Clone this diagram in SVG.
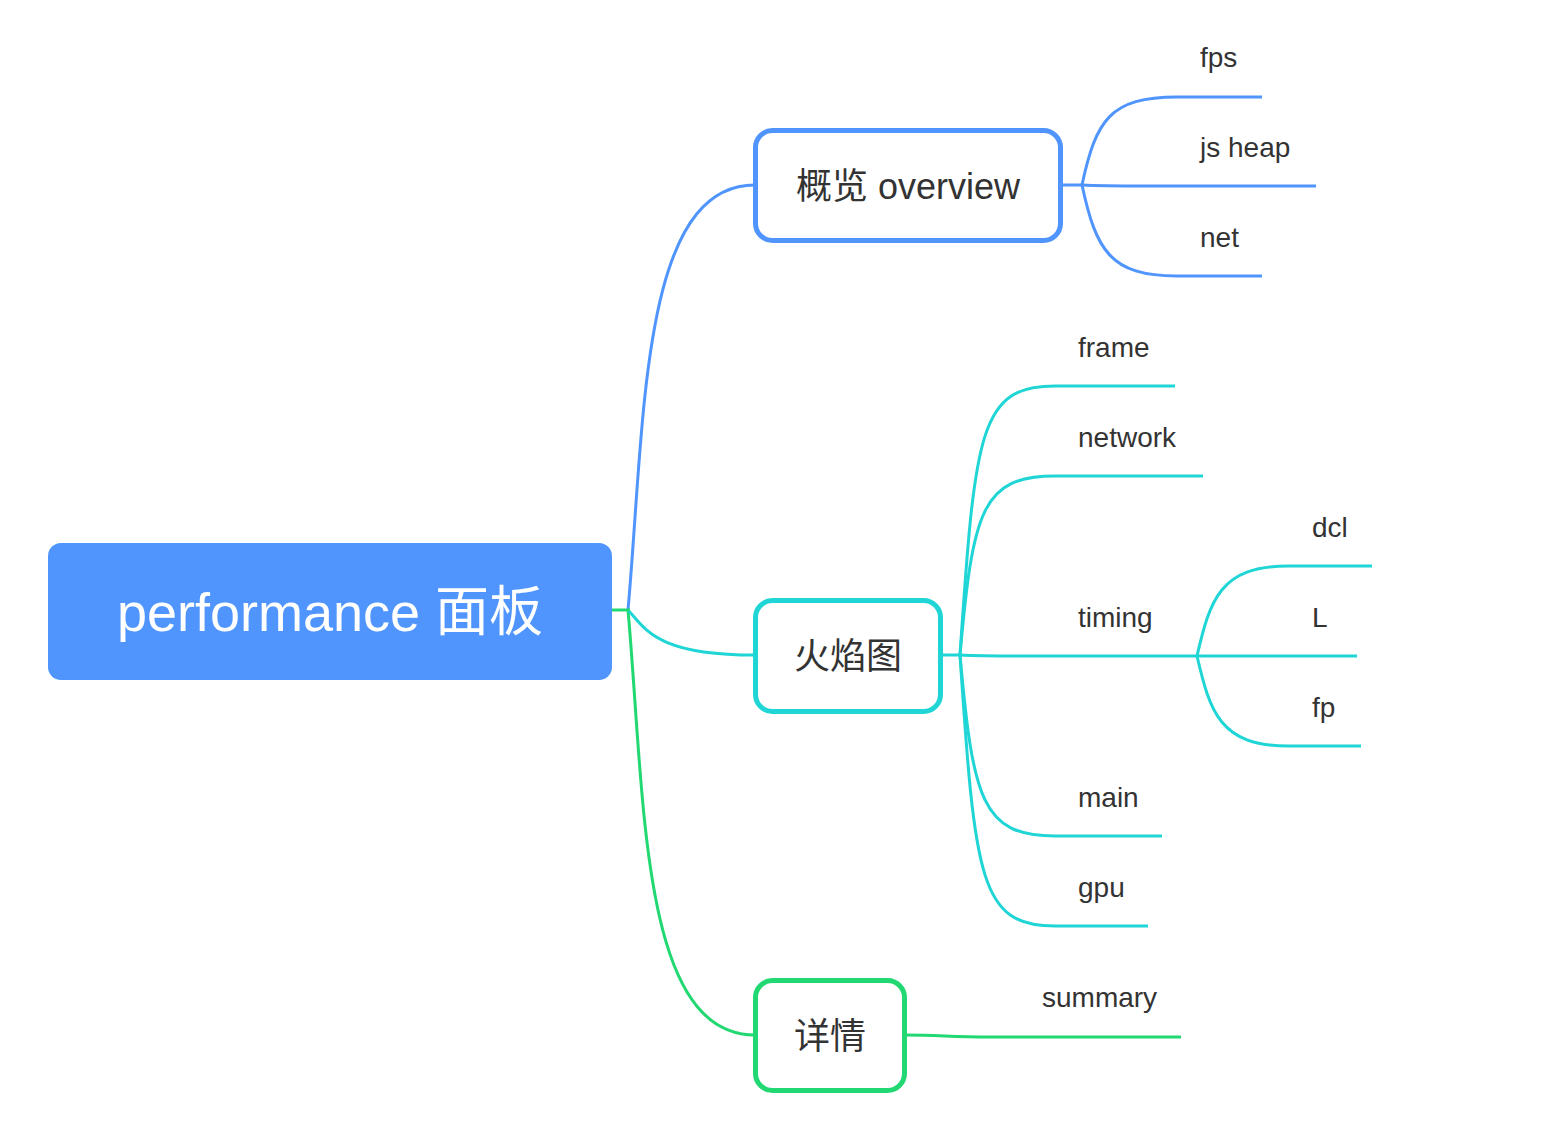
<svg xmlns="http://www.w3.org/2000/svg" width="1556" height="1126" viewBox="0 0 1556 1126">
<style>
.t{font-family:"Liberation Sans","Noto Sans CJK SC",sans-serif;fill:#333333;font-size:28px}
.bt{font-family:"Liberation Sans","Noto Sans CJK SC",sans-serif;fill:#333333;font-size:36px;text-anchor:middle}
.c{fill:none;stroke-width:3;stroke-linecap:butt}
.b{stroke:#4f95fd}.cy{stroke:#1fd5d5}.g{stroke:#22d872}
.box{fill:#ffffff;stroke-width:5}
</style>
<rect width="1556" height="1126" fill="#ffffff"/>
<g id="connectors">
<path class="c b" d="M628,610 C645,420 640,185 755,185"/>
<path class="c g" d="M628,610 C645,800 640,1035 755,1035"/>
<path class="c cy" d="M628,610 C645,628 655,655 755,655"/>
<path class="c g" d="M612,610 L630,610"/>
<path class="c b" d="M1061,185 L1082,185"/>
<path class="c b" d="M1082,185 C1096,120 1110,97 1177,97 L1262,97"/>
<path class="c b" d="M1082,185 C1100,186 1120,186 1145,186 L1316,186"/>
<path class="c b" d="M1082,185 C1096,250 1110,276 1177,276 L1262,276"/>
<path class="c cy" d="M941,655 L960,655"/>
<path class="c cy" d="M960,655 C975,430 980,386 1055,386 L1175,386"/>
<path class="c cy" d="M960,655 C973,510 982,476 1055,476 L1203,476"/>
<path class="c cy" d="M960,655 C980,656 1000,656 1025,656 L1197,656"/>
<path class="c cy" d="M960,655 C973,800 982,836 1055,836 L1162,836"/>
<path class="c cy" d="M960,655 C975,880 980,926 1055,926 L1148,926"/>
<path class="c cy" d="M1197,656 C1210,600 1220,566 1288,566 L1372,566"/>
<path class="c cy" d="M1197,656 L1357,656"/>
<path class="c cy" d="M1197,656 C1210,712 1220,746 1288,746 L1361,746"/>
<path class="c g" d="M905,1035 C940,1035 950,1037 990,1037 L1181,1037"/>
</g>
<g id="root">
<rect x="48" y="543" width="564" height="137" rx="13" fill="#4f95fd"/>
<text x="330" y="631" style="font-family:'Liberation Sans','Noto Sans CJK SC',sans-serif;font-size:54px;fill:#ffffff;text-anchor:middle">performance 面板</text>
</g>
<g id="overview">
<rect class="box" x="755.5" y="130.5" width="305" height="110" rx="17" stroke="#4f95fd"/>
<text class="bt" x="908" y="199">概览 overview</text>
</g>
<g id="flame">
<rect class="box" x="755.5" y="600.5" width="185" height="111" rx="17" stroke="#1fd5d5"/>
<text class="bt" x="848" y="669">火焰图</text>
</g>
<g id="detail">
<rect class="box" x="755.5" y="980.5" width="149" height="110" rx="17" stroke="#22d872"/>
<text class="bt" x="830" y="1049">详情</text>
</g>
<g id="fps"><text class="t" x="1200" y="67">fps</text></g>
<g id="jsheap"><text class="t" x="1200" y="157">js heap</text></g>
<g id="net"><text class="t" x="1200" y="247">net</text></g>
<g id="frame"><text class="t" x="1078" y="357">frame</text></g>
<g id="network"><text class="t" x="1078" y="447">network</text></g>
<g id="timing"><text class="t" x="1078" y="627">timing</text></g>
<g id="dcl"><text class="t" x="1312" y="537">dcl</text></g>
<g id="L"><text class="t" x="1312" y="627">L</text></g>
<g id="fp"><text class="t" x="1312" y="717">fp</text></g>
<g id="main"><text class="t" x="1078" y="807">main</text></g>
<g id="gpu"><text class="t" x="1078" y="897">gpu</text></g>
<g id="summary"><text class="t" x="1042" y="1007">summary</text></g>
</svg>
